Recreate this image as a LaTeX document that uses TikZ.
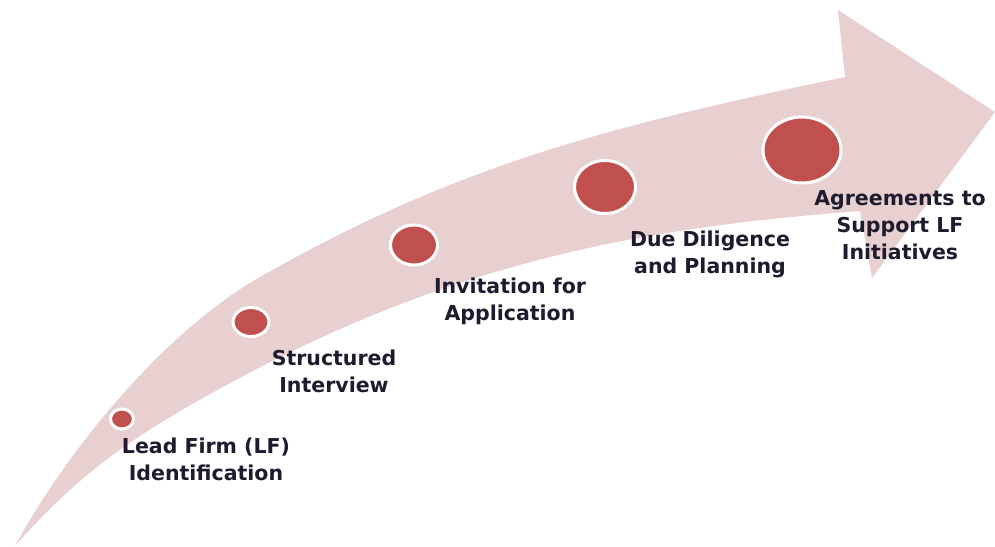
\documentclass[tikz,border=0pt]{standalone}
\usepackage{fontspec}
\setmainfont{DejaVu Sans}
\usetikzlibrary{shapes.geometric}
\definecolor{arrowpink}{HTML}{E8D0D1}
\definecolor{dotred}{HTML}{C0504D}
\definecolor{textnavy}{HTML}{1E1B2E}
\tikzset{
  dot/.style={ellipse, fill=dotred, draw=white, line width=3pt, inner sep=0pt},
  lbl/.style={align=center, inner sep=0pt, text=textnavy, font=\bfseries\fontsize{20.5}{27}\selectfont}
}
\begin{document}
\begin{tikzpicture}[x=1pt,y=-1pt]
\useasboundingbox[fill=white] (0,0) rectangle (995,546);
\fill[arrowpink] (15,546) .. controls (67,450) and (165,331) .. (260,277)
  .. controls (460,163) and (615,125) .. (845,77)
  -- (838,10) -- (995,112) -- (872,278) -- (860,211)
  .. controls (640,227.5) and (470,262) .. (270,362)
  .. controls (140,429.6) and (85,467) .. (15,546) -- cycle;
\node[dot, minimum width=23pt, minimum height=20pt] (c1) at (122,419) {};
\node[dot, minimum width=36pt, minimum height=29pt] (c2) at (251,322) {};
\node[dot, minimum width=47pt, minimum height=40pt] (c3) at (414,245) {};
\node[dot, minimum width=61pt, minimum height=53pt] (c4) at (605,187) {};
\node[dot, minimum width=78pt, minimum height=66pt] (c5) at (802,150) {};
\node[lbl] (t1) at (206,459) {Lead Firm (LF)\\Identification};
\node[lbl] (t2) at (334,371) {Structured\\Interview};
\node[lbl] (t3) at (510,301) {Invitation for\\Application};
\node[lbl] (t4) at (710,254) {Due Diligence\\and Planning};
\node[lbl] (t5) at (900,225) {Agreements to\\Support LF\\Initiatives};
\end{tikzpicture}
\end{document}
